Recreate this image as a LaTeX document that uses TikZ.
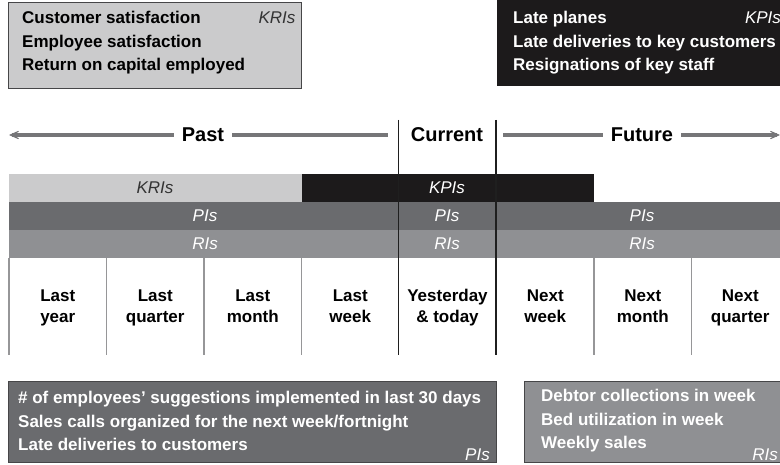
\documentclass[tikz,border=0pt]{standalone}
\usepackage{fontspec}
\setmainfont{Liberation Sans}
\usepackage{xcolor}
\usetikzlibrary{arrows.meta, positioning}
\definecolor{krifill}{RGB}{203,203,204}
\definecolor{kpifill}{RGB}{28,26,27}
\definecolor{pifill}{RGB}{106,107,110}
\definecolor{rifill}{RGB}{143,144,147}
\definecolor{boxedge}{RGB}{70,70,72}
\definecolor{cellgray}{RGB}{150,150,152}
\definecolor{timegray}{RGB}{118,118,120}
\tikzstyle{infobox} = [rectangle, anchor=north west, draw=boxedge,
line width=1.3pt, inner sep=0pt]
\tikzstyle{infotext} = [anchor=west, align=left, inner sep=0pt,
font=\fontsize{17}{23.5}\selectfont\bfseries]
\tikzstyle{tag} = [inner sep=0pt, font=\fontsize{17}{17}\selectfont\itshape]
\tikzstyle{band} = [rectangle, anchor=north west, inner sep=0pt,
minimum height=28pt]
\tikzstyle{period} = [anchor=north, align=center, inner sep=0pt,
font=\fontsize{17}{21}\selectfont\bfseries]
\tikzstyle{timelabel} = [inner xsep=8pt, font=\fontsize{20}{20}\selectfont\bfseries]
\tikzstyle{timeline} = [draw=timegray, line width=3.2pt]
\tikzstyle{timearrow} = [timeline, -{Stealth[length=19pt, width=17pt, inset=15pt]}]
\tikzstyle{cellline} = [draw=cellgray, line width=1.4pt]
\tikzstyle{nowline} = [draw=black!88, line width=1.4pt]

\begin{document}
\begin{tikzpicture}[x=1pt, y=-1pt]
    \clip (0,0) rectangle (780,465);

    % indicator boxes at the top
    \node (kribox) [infobox, fill=krifill, minimum width=293pt, minimum height=86pt] at (8,2) {};
    \node (kritext) [infotext] at (22,43)
    {Customer satisfaction\\Employee satisfaction\\Return on capital employed};
    \node (kritag) [tag, text=black!80] at (277,18) {KRIs};

    \node (kpibox) [infobox, fill=kpifill, draw=kpifill, minimum width=300pt, minimum height=86pt] at (497,-1) {};
    \node (kpitext) [infotext, text=white] at (513,43)
    {Late planes\\Late deliveries to key customers\\Resignations of key staff};
    \node (kpitag) [tag, text=white] at (763,18) {KPIs};

    % time axis
    \node (past) [timelabel] at (203,135) {Past};
    \node (current) [timelabel] at (447,135) {Current};
    \node (future) [timelabel] at (642,135) {Future};
    \coordinate (pastend) at (9,135);
    \coordinate (pastnow) at (388,135);
    \coordinate (futurenow) at (503,135);
    \coordinate (futureend) at (780,135);
    \draw[timearrow] (past) -- (pastend);
    \draw[timeline] (past) -- (pastnow);
    \draw[timeline] (future) -- (futurenow);
    \draw[timearrow] (future) -- (futureend);

    % bands
    \node (kriband) [band, fill=krifill, minimum width=292.5pt] at (9,174) {};
    \node (kpiband) [band, fill=kpifill, minimum width=292.5pt] at (301.5,174) {};
    \node (piband) [band, fill=pifill, minimum width=780pt] at (9,202) {};
    \node (riband) [band, fill=rifill, minimum width=780pt] at (9,230) {};
    \node (krilabel) [tag, text=black!80] at (155,188) {KRIs};
    \node (kpilabel) [tag, text=white] at (447,188) {KPIs};
    \node (pipast) [tag, text=white] at (205,216) {PIs};
    \node (pinow) [tag, text=white] at (447,216) {PIs};
    \node (pifuture) [tag, text=white] at (642,216) {PIs};
    \node (ripast) [tag, text=white] at (205,244) {RIs};
    \node (rinow) [tag, text=white] at (447,244) {RIs};
    \node (rifuture) [tag, text=white] at (642,244) {RIs};

    % periods
    \foreach \x in {9,106.5,204,301.5,594,691.5}
        \draw[cellline] (\x,258) -- (\x,355);
    \draw[nowline] (398.5,120) -- (398.5,355);
    \draw[nowline] (496,120) -- (496,355);
    \node (lastyear) [period] at (57.75,290) {Last\\year};
    \node (lastquarter) [period] at (155.25,290) {Last\\quarter};
    \node (lastmonth) [period] at (252.75,290) {Last\\month};
    \node (lastweek) [period] at (350.25,290) {Last\\week};
    \node (today) [period] at (447.5,288.5) {Yesterday\\\& today};
    \node (nextweek) [period] at (545.25,290) {Next\\week};
    \node (nextmonth) [period] at (642.75,290) {Next\\month};
    \node (nextquarter) [period] at (740.25,290) {Next\\quarter};

    % indicator boxes at the bottom
    \node (pibox) [infobox, fill=pifill, minimum width=488pt, minimum height=81pt] at (8,381) {};
    \node (pitext) [infotext, text=white] at (18,421)
    {\# of employees' suggestions implemented in last 30 days\\Sales calls organized for the next week/fortnight\\Late deliveries to customers};
    \node (pitag) [tag, text=white, anchor=east] at (490,455) {PIs};

    \node (ribox) [infobox, fill=rifill, minimum width=280pt, minimum height=81pt] at (524,381) {};
    \node (ritext) [infotext, text=white] at (541,421)
    {Debtor collections in week\\Bed utilization in week\\Weekly sales};
    \node (ritag) [tag, text=white, anchor=east] at (778,455) {RIs};
\end{tikzpicture}
\end{document}
